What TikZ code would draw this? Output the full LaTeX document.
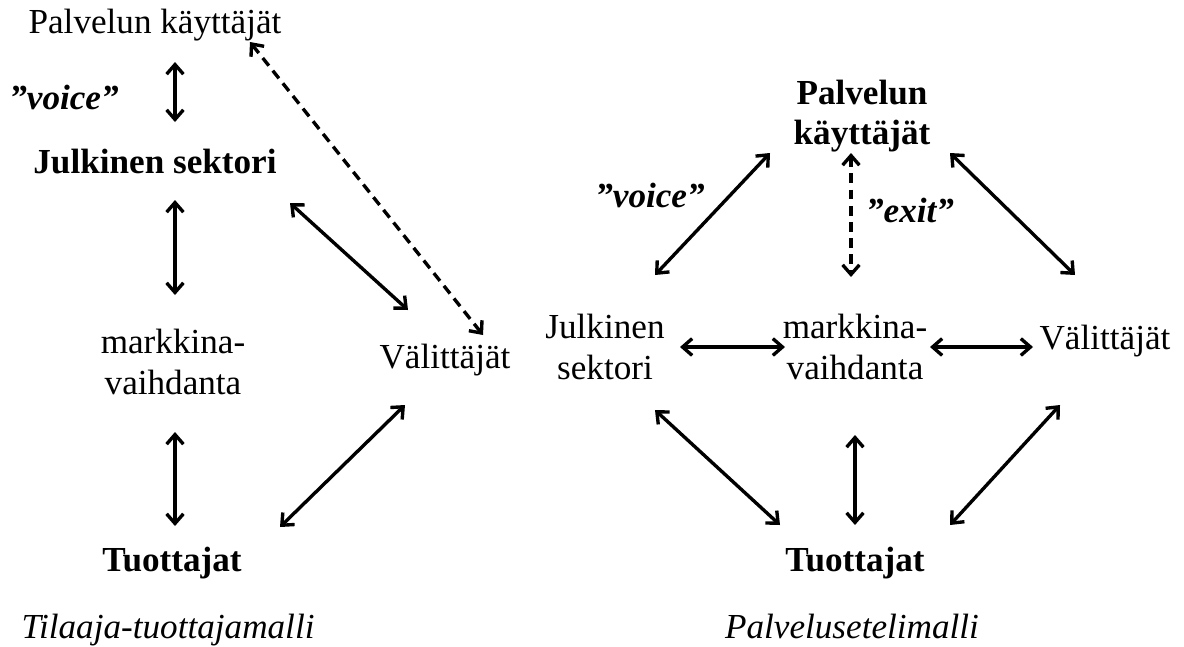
\documentclass[tikz,border=0pt]{standalone}
\usepackage{fontspec}
\setmainfont{Liberation Serif}
\usetikzlibrary{arrows.meta}

\begin{document}
\begin{tikzpicture}
      [x=0.025cm,y=-0.025cm
      ,font=\fontsize{25}{29}\selectfont
      ,txt/.style={inner sep=0pt,align=center}
      ,hd/.style={txt,font=\fontsize{25}{29}\selectfont\bfseries}
      ,lbl/.style={txt,font=\fontsize{25}{29}\selectfont\bfseries\itshape}
      ,mallicap/.style={txt,anchor=base,font=\fontsize{25}{29}\selectfont\itshape}
      ,arr/.style={line width=2.4pt,{Straight Barb[length=2.4mm,width=4.2mm]}-{Straight Barb[length=2.4mm,width=4.2mm]}}
      ,arrdash/.style={arr,dash pattern=on 7pt off 4.5pt}
      ]
        \useasboundingbox (0,0) rectangle (1184,646);
        % Tilaaja-tuottajamalli
        \node[txt] (lpk) at (155,25) {Palvelun käyttäjät};
        \node[lbl] (lvoice) at (64,97) {”voice”};
        \node[hd] (ljs) at (155,162) {Julkinen sektori};
        \node[txt] (lmv) at (173,362) {markkina-\\vaihdanta};
        \node[txt] (lva) at (445,360) {Välittäjät};
        \node[hd] (ltu) at (172,563) {Tuottajat};
        \node[mallicap] (lcap) at (168,638) {Tilaaja-tuottajamalli};
        \draw[arr] ([shift={(20,37)}]lpk.center) -- ([shift={(20,-40)}]ljs.center);
        \draw[arr] ([shift={(20,38)}]ljs.center) -- ([shift={(2,-67)}]lmv.center);
        \draw[arr] ([shift={(2,70)}]lmv.center) -- ([shift={(3,-37)}]ltu.center);
        \draw[arr] ([shift={(135,41)}]ljs.center) -- ([shift={(-37,-50)}]lva.center);
        \draw[arrdash] ([shift={(95,17)}]lpk.center) -- ([shift={(38,-25)}]lva.center);
        \draw[arr] ([shift={(-40,45)}]lva.center) -- ([shift={(108,-36)}]ltu.center);
        % Palvelusetelimalli
        \node[hd] (rpk) at (862,116) {Palvelun\\käyttäjät};
        \node[lbl] (rvoice) at (650,195) {”voice”};
        \node[lbl] (rexit) at (910,210) {”exit”};
        \node[txt] (rjs) at (605,347) {Julkinen\\sektori};
        \node[txt] (rmv) at (855,347) {markkina-\\vaihdanta};
        \node[txt] (rva) at (1105,341) {Välittäjät};
        \node[hd] (rtu) at (855,563) {Tuottajat};
        \node[mallicap] (rcap) at (852,638) {Palvelusetelimalli};
        \draw[arr] ([shift={(-92,37)}]rpk.center) -- ([shift={(50,-72)}]rjs.center);
        \draw[arrdash] ([shift={(-11,37)}]rpk.center) -- ([shift={(-4,-70)}]rmv.center);
        \draw[arr] ([shift={(88,37)}]rpk.center) -- ([shift={(-30,-66)}]rva.center);
        \draw[arr] ([shift={(75,0)}]rjs.center) -- ([shift={(-70,0)}]rmv.center);
        \draw[arr] ([shift={(75,0)}]rmv.center) -- ([shift={(-72,6)}]rva.center);
        \draw[arr] ([shift={(50,63)}]rjs.center) -- ([shift={(-75,-38)}]rtu.center);
        \draw[arr] ([shift={(0,88)}]rmv.center) -- ([shift={(0,-38)}]rtu.center);
        \draw[arr] ([shift={(-45,64)}]rva.center) -- ([shift={(95,-38)}]rtu.center);
      \end{tikzpicture}
\end{document}
